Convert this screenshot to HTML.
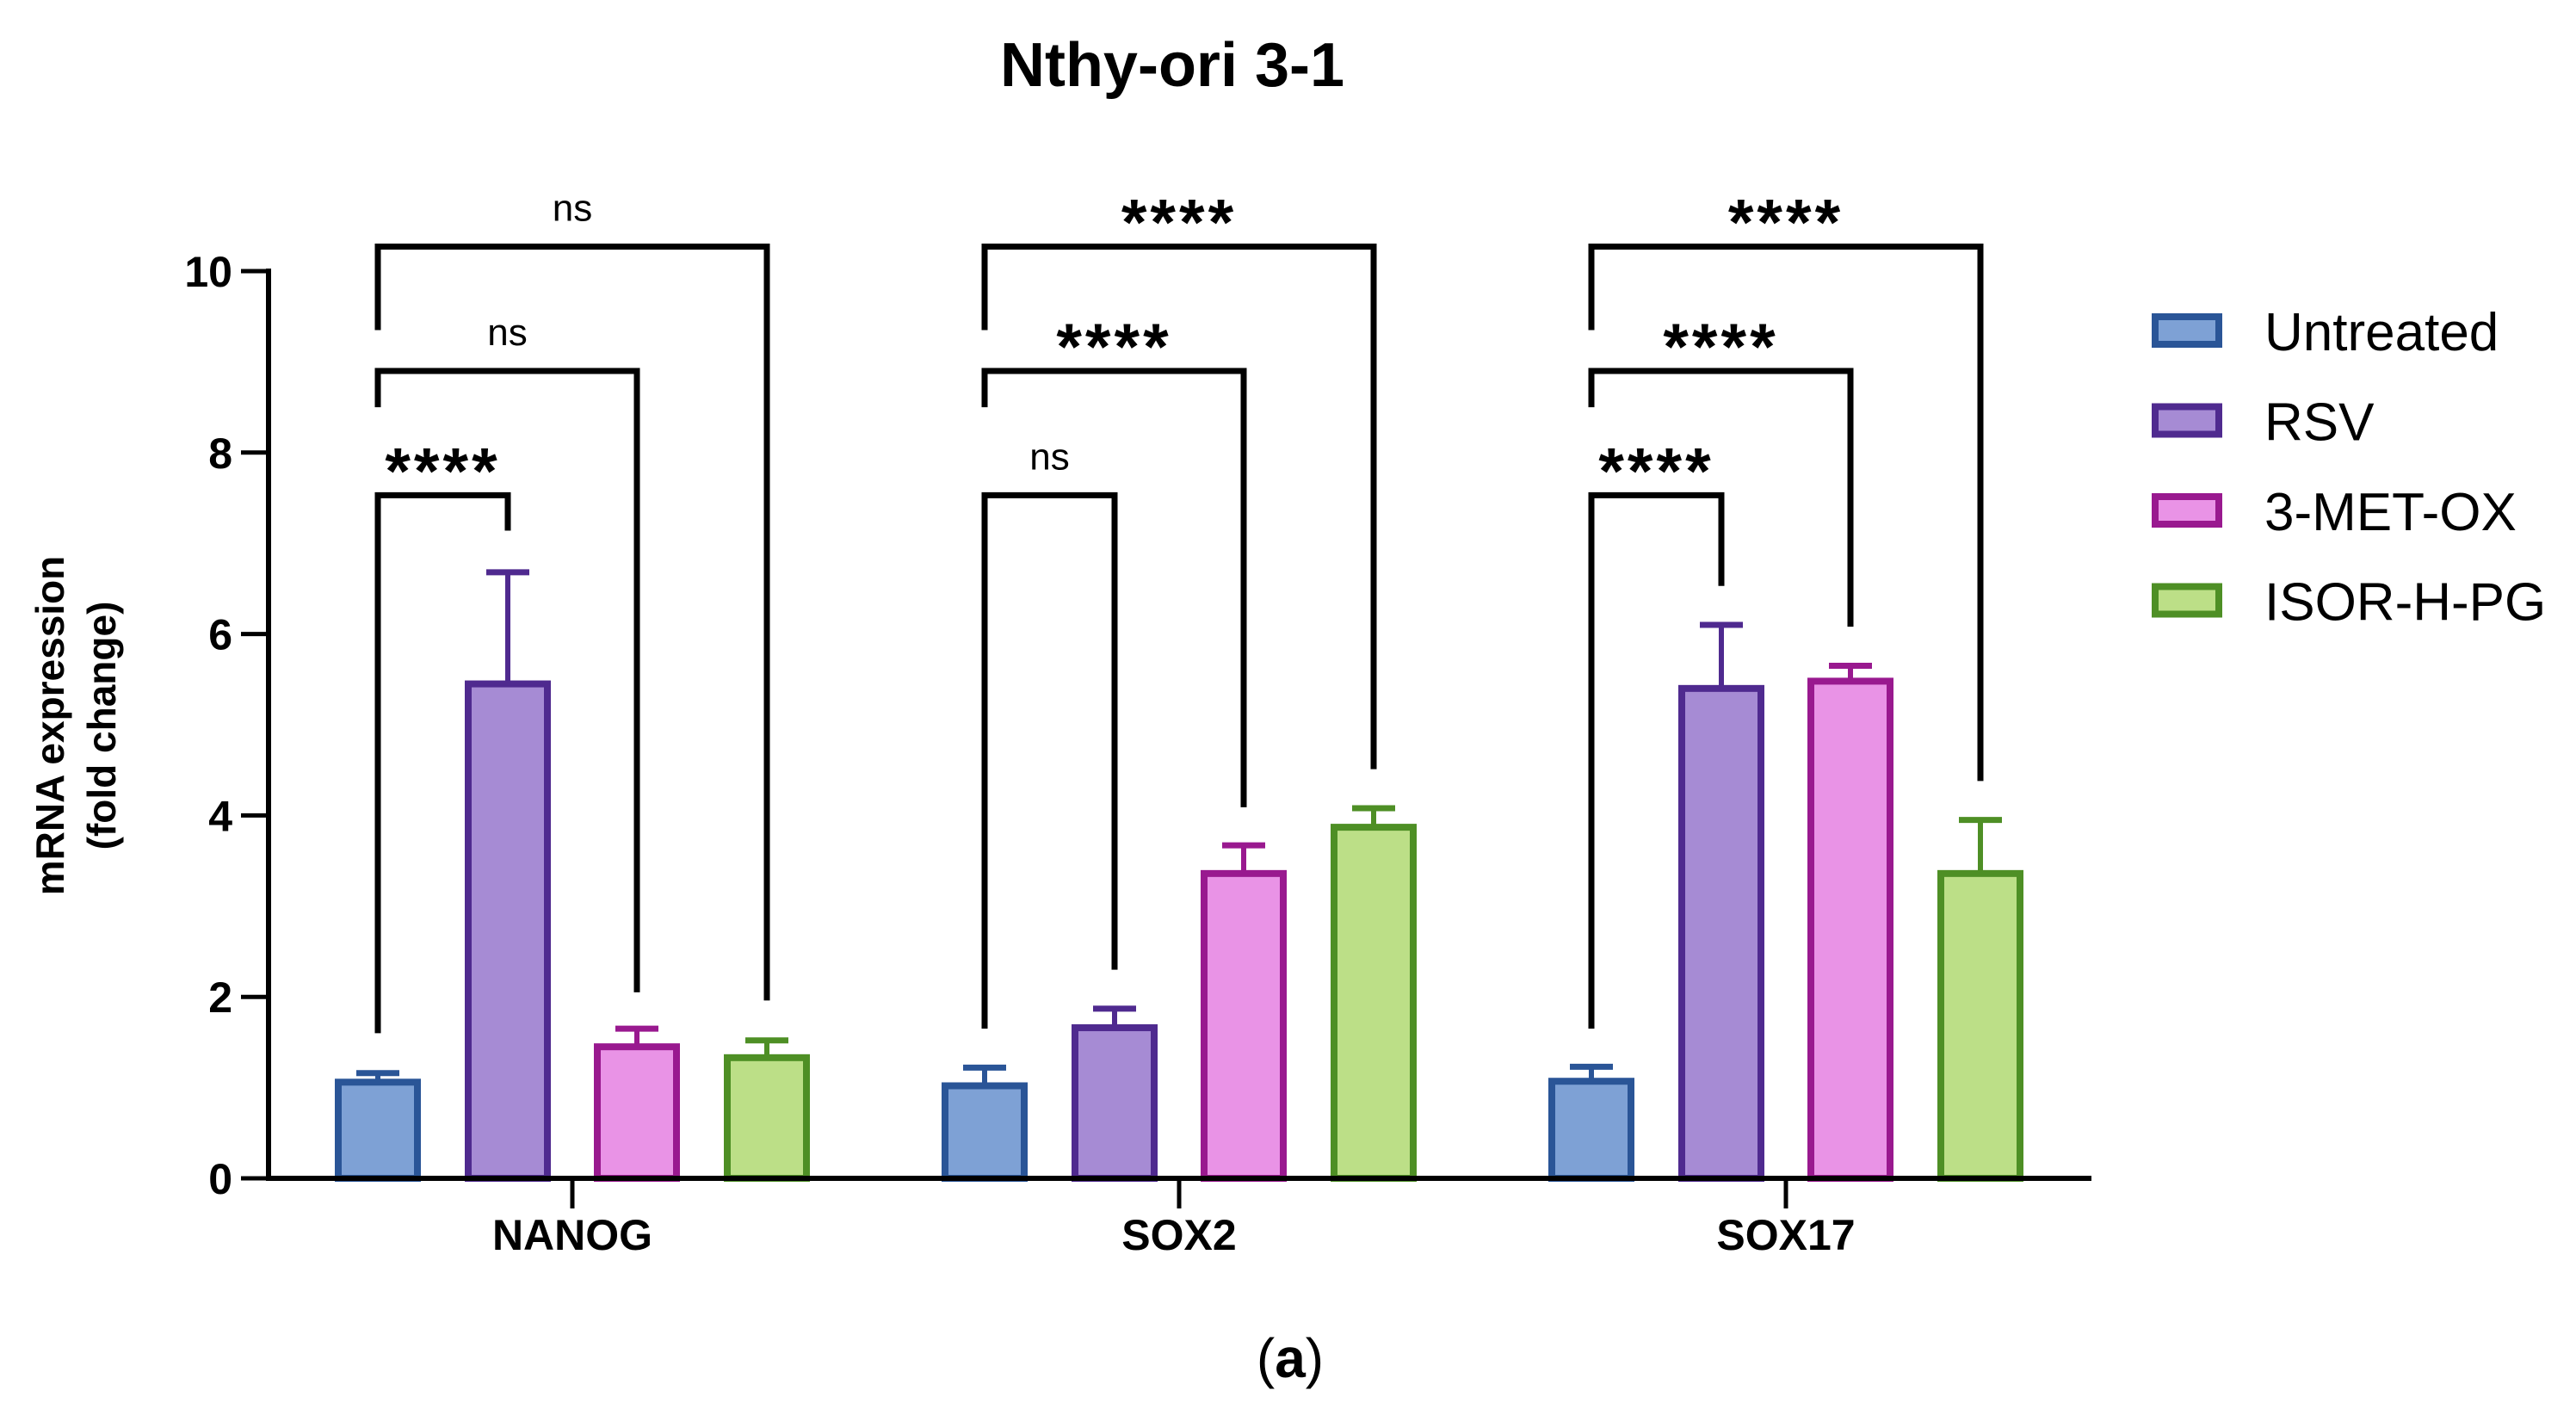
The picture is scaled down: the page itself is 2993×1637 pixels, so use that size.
<!DOCTYPE html>
<html><head><meta charset="utf-8"><style>
html,body{margin:0;padding:0;background:#fff;}
svg{display:block;}
text{font-family:"Liberation Sans",Arial,sans-serif;}
</style></head><body>
<svg id="chart" width="2993" height="1637" viewBox="0 0 2993 1637" xmlns="http://www.w3.org/2000/svg">
<text x="1362" y="100" font-size="72" font-weight="bold" text-anchor="middle">Nthy-ori 3-1</text>
<g transform="translate(74,843) rotate(-90)">
<text x="0" y="0" font-size="46" font-weight="bold" text-anchor="middle">mRNA expression</text>
<text x="0" y="60" font-size="46" font-weight="bold" text-anchor="middle">(fold change)</text>
</g>
<g id="plot"></g>
<text x="1499" y="1600" font-size="64" text-anchor="middle" font-family="Liberation Serif, serif">(<tspan font-weight="bold">a</tspan>)</text>
</svg>
<script>
const categories = ["NANOG", "SOX2", "SOX17"];
const seriesNames = ["Untreated", "RSV", "3-MET-OX", "ISOR-H-PG"];
const untreated = [1.06, 1.02, 1.07];
const rsv = [5.45, 1.66, 5.40];
const metox = [1.45, 3.36, 5.48];
const isor = [1.33, 3.87, 3.36];
const untreatedErr = [0.10, 0.20, 0.16];
const rsvErr = [1.23, 0.21, 0.70];
const metoxErr = [0.20, 0.31, 0.17];
const isorErr = [0.19, 0.21, 0.59];
const yTicks = [0, 2, 4, 6, 8, 10];
const bracketCats = [0,0,0,1,1,1,2,2,2];
const bracketTo = [1,2,3,1,2,3,1,2,3];
const bracketLevels = [7.53,8.9,10.27,7.53,8.9,10.27,7.53,8.9,10.27];
const bracketLeftEnds = [1.6,8.5,9.35,1.65,8.5,9.35,1.65,8.5,9.35];
const bracketRightEnds = [7.14,2.05,1.96,2.3,4.09,4.51,6.53,6.08,4.38];
const bracketLabels = ["****","ns","ns","ns","****","****","****","****","****"];

const NS = "http://www.w3.org/2000/svg";
const plot = document.getElementById("plot");
const X0 = 312, XEND = 2430, Y0 = 1369, Y10 = 315;
const yScale = v => Y0 - (v / 10) * (Y0 - Y10);
const groupCenter = i => 665 + i * 705;
const barOffsets = [-226, -75, 75, 226];
const barX = (c, s) => groupCenter(c) + barOffsets[s];
const BW = 92;
const fills = ["#7ea1d5", "#a68bd4", "#e993e6", "#bcdf87"];
const strokes = ["#2a5597", "#4f2a8f", "#99198f", "#4e8f25"];
const values = [untreated, rsv, metox, isor];
const errs = [untreatedErr, rsvErr, metoxErr, isorErr];

function mk(tag, attrs, parent) {
  const e = document.createElementNS(NS, tag);
  for (const k in attrs) e.setAttribute(k, attrs[k]);
  (parent || plot).appendChild(e);
  return e;
}

let ax = mk("line", {x1: X0, y1: Y10 - 3, x2: X0, y2: Y0 + 3, stroke: "#000", "stroke-width": 6});


yTicks.forEach(t => {
  const y = yScale(t);
  const tk = mk("line", {x1: 280, y1: y, x2: X0, y2: y, stroke: "#000", "stroke-width": 5});
  
  
  const tl = mk("text", {x: 270, y: y + 18, "font-size": 50, "font-weight": "bold", "text-anchor": "end"});
  tl.textContent = t;
  
  
});

categories.forEach((cat, c) => {
  for (let s = 0; s < 4; s++) {
    const cx = barX(c, s), v = values[s][c], e = errs[s][c];
    const top = yScale(v), et = yScale(v + e);
    const el = mk("line", {x1: cx, y1: top, x2: cx, y2: et, stroke: strokes[s], "stroke-width": 6});
    
    
    const ec = mk("line", {x1: cx - 25, y1: et, x2: cx + 25, y2: et, stroke: strokes[s], "stroke-width": 7});
    
    
    const r = mk("rect", {x: cx - BW / 2, y: top, width: BW, height: Y0 - top, fill: fills[s], stroke: strokes[s], "stroke-width": 8});
    
    
  }
  const gt = mk("line", {x1: groupCenter(c), y1: Y0, x2: groupCenter(c), y2: Y0 + 35, stroke: "#000", "stroke-width": 5});
  
  
  const lbl = mk("text", {x: groupCenter(c), y: 1452, "font-size": 50, "font-weight": "bold", "text-anchor": "middle"});
  lbl.textContent = cat;
  
  
});
ax = mk("line", {x1: X0 - 3, y1: Y0, x2: XEND, y2: Y0, stroke: "#000", "stroke-width": 6});



bracketCats.forEach((c, i) => {
  const xl = barX(c, 0), xr = barX(c, bracketTo[i]);
  const y = yScale(bracketLevels[i]);
  const p = mk("path", {d: `M${xl},${yScale(bracketLeftEnds[i])} L${xl},${y} L${xr},${y} L${xr},${yScale(bracketRightEnds[i])}`, fill: "none", stroke: "#000", "stroke-width": 7});
  
  
  const isNs = bracketLabels[i] === "ns";
  const t = mk("text", {x: (xl + xr) / 2, y: y - (isNs ? 30 : 2), "font-size": isNs ? 44 : 76, "font-weight": "bold", "text-anchor": "middle", "letter-spacing": isNs ? 0 : 4});
  if (isNs) t.setAttribute("font-weight", "normal");
  t.textContent = bracketLabels[i];
  
  
});

seriesNames.forEach((n, s) => {
  const cy = 384 + s * 104.5;
  const g = mk("g", {});
  
  
  mk("rect", {x: 2504, y: cy - 16, width: 74, height: 32, fill: fills[s], stroke: strokes[s], "stroke-width": 8}, g);
  const t = mk("text", {x: 2631, y: cy + 23, "font-size": 62}, g);
  t.textContent = n;
});
</script>
</body></html>
